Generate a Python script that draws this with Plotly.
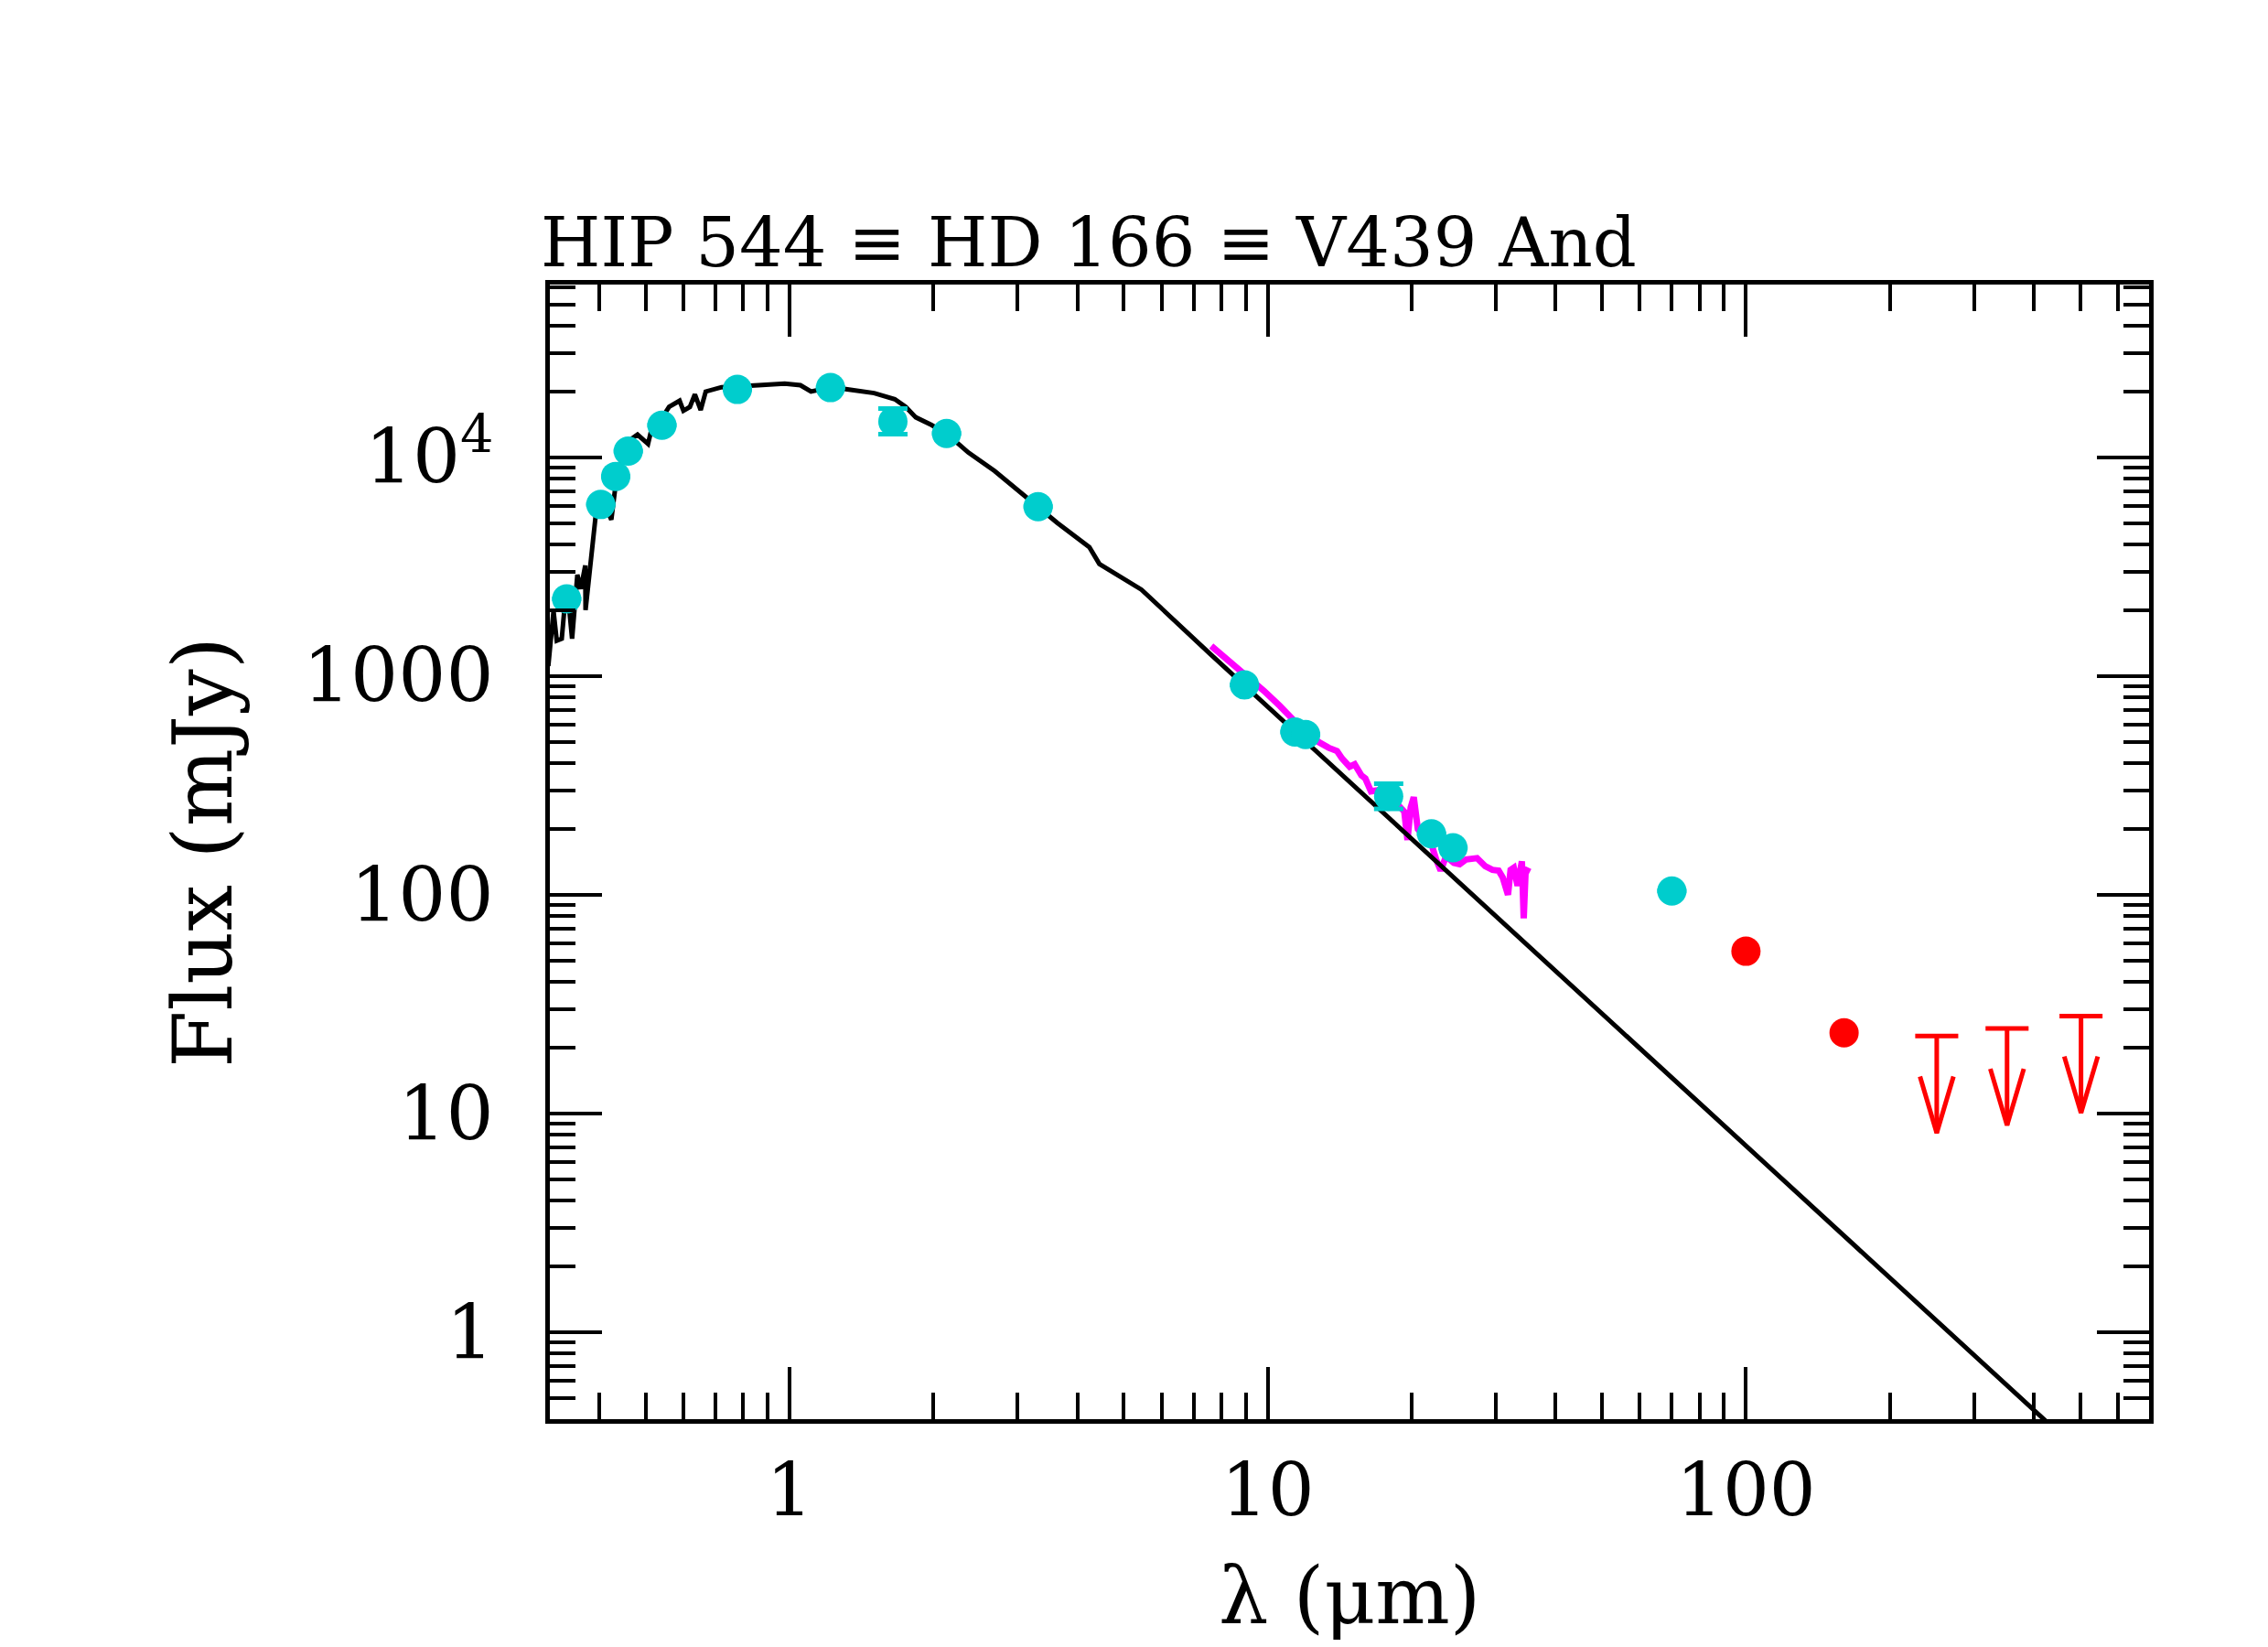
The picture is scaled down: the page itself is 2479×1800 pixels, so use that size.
import plotly.graph_objects as go

# ---------------- data ----------------
# photometry (cyan)
phot_wave = [0.342, 0.403, 0.433, 0.460, 0.541, 0.778, 1.218, 1.645, 2.13, 3.31,
             8.94, 11.4, 12.0, 17.9, 22.0, 24.4, 70.0]
phot_flux = [2250, 6080, 8170, 10660, 14000, 20400, 20800, 14560, 12840, 5940,
             910, 555, 540, 282, 190, 164, 104]
phot_err_hi = [0, 0, 0, 0, 0, 0, 0, 2140, 0, 0, 0, 0, 0, 40, 0, 0, 0]
phot_err_lo = [0, 0, 0, 0, 0, 0, 0, 1830, 0, 0, 0, 0, 0, 35, 0, 0, 0]

# Herschel detections (red)
her_wave = [100.0, 160.4]
her_flux = [55.2, 23.4]

# Herschel upper limits (red arrows)
ul_wave = [250.6, 351.6, 502.0]
ul_flux = [22.6, 24.5, 27.9]

# stellar photosphere model (black)
model_wave = [0.313, 0.318, 0.321, 0.326, 0.334, 0.340, 0.347, 0.351, 0.360, 0.366,
              0.374, 0.3745, 0.384, 0.393, 0.408, 0.424, 0.435, 0.463, 0.481, 0.506,
              0.519, 0.540, 0.560, 0.589, 0.600, 0.619, 0.634, 0.652, 0.668, 0.721,
              0.861, 0.977, 1.054, 1.109, 1.227, 1.358, 1.503, 1.660, 1.750, 1.837,
              1.982, 2.138, 2.366, 2.685, 3.048, 3.631, 4.236, 4.446, 5.445, 7.568,
              500.0]
model_flux = [1110, 1700, 1980, 1450, 1480, 2300, 1920, 1480, 2900, 2500,
              3200, 2000, 3520, 5350, 6280, 5180, 8150, 11970, 12680, 11510,
              14520, 15000, 16980, 18110, 16300, 16980, 19360, 16440, 19950, 20890,
              21330, 21680, 21330, 19950, 20890, 20280, 19630, 18410, 16980, 15210,
              14030, 12740, 10500, 8650, 6920, 5010, 3880, 3250, 2480, 1265,
              0.282]

# Spitzer IRS spectrum (magenta)
irs_wave = [7.62, 8.2, 8.75, 9.3, 9.82, 10.6, 11.38, 12.1, 12.79, 13.4,
            13.96, 14.3, 14.83, 15.2, 15.7, 16.0, 16.44, 17.0, 17.6, 18.2,
            18.8, 19.3, 19.6, 19.9, 20.2, 20.6, 21.1, 22.0, 22.5, 23.0,
            23.6, 24.5, 25.2, 26.0, 27.4, 28.5, 29.5, 30.4, 31.0, 31.8,
            32.2, 32.7, 33.3, 34.0, 34.3, 34.6, 35.1]
irs_flux = [1371, 1200, 1074, 960, 855, 730, 622, 560, 498, 470,
            454, 420, 385, 395, 351, 340, 297, 300, 275, 262,
            255, 240, 178, 250, 279, 200, 190, 170, 145, 129,
            150, 140, 138, 145, 147, 135, 130, 129, 120, 100,
            130, 133, 110, 142, 78, 125, 133]

x_tickvals = [1, 10, 100]
x_ticktext = ["1", "10", "100"]
y_tickvals = [1, 10, 100, 1000, 10000]
y_ticktext = ["1", "10", "100", "1000", "10<sup>4</sup>"]

title_text = "HIP 544 \u2261 HD 166 \u2261 V439 And"
xlabel = "\u03bb (\u03bcm)"
ylabel = "Flux (mJy)"

# ---------------- style ----------------
FONT = "DejaVu Serif"
CYAN = "#00CDCD"
RED = "#FF0000"
MAG = "#FF00FF"
UL_LEN_DEX = 0.443
HEAD_LEN_DEX = 0.258
HEAD_HALF_DEX = 0.035
CAP_HALF_DEX = 0.045

fig = go.Figure()

fig.add_trace(go.Scatter(x=irs_wave, y=irs_flux, mode="lines",
                         line=dict(color=MAG, width=7), showlegend=False))
fig.add_trace(go.Scatter(x=model_wave, y=model_flux, mode="lines",
                         line=dict(color="black", width=5), showlegend=False))
fig.add_trace(go.Scatter(x=phot_wave, y=phot_flux, mode="markers",
                         marker=dict(color=CYAN, size=32, line=dict(width=0)),
                         error_y=dict(type="data", array=phot_err_hi, arrayminus=phot_err_lo,
                                      color=CYAN, thickness=5, width=16),
                         showlegend=False))
fig.add_trace(go.Scatter(x=her_wave, y=her_flux, mode="markers",
                         marker=dict(color=RED, size=32, line=dict(width=0)),
                         showlegend=False))

# upper-limit arrows built from the data
ax, ay = [], []
for w, f in zip(ul_wave, ul_flux):
    tip = f / 10 ** UL_LEN_DEX
    head = tip * 10 ** HEAD_LEN_DEX
    ax += [w / 10 ** CAP_HALF_DEX, w * 10 ** CAP_HALF_DEX, None]
    ay += [f, f, None]
    ax += [w, w, None]
    ay += [f, tip, None]
    ax += [w / 10 ** HEAD_HALF_DEX, w, w * 10 ** HEAD_HALF_DEX, None]
    ay += [head, tip, head, None]
fig.add_trace(go.Scatter(x=ax, y=ay, mode="lines",
                         line=dict(color=RED, width=5), showlegend=False))

x_minor = [k * 10 ** e for e in range(-1, 3) for k in range(2, 10)]
y_minor = [k * 10 ** e for e in range(-1, 5) for k in range(2, 10)]

axis_common = dict(
    showgrid=False, zeroline=False, showline=True, linecolor="black", linewidth=5,
    mirror="ticks", ticks="inside", ticklen=57, tickwidth=4, tickcolor="black",
    tickmode="array",
)

fig.update_xaxes(type="log", range=[-0.5012, 2.843], tickvals=x_tickvals, ticktext=x_ticktext,
                 tickfont=dict(family=FONT, size=80, color="black"), ticklabelstandoff=4,
                 minor=dict(ticks="inside", ticklen=29, tickwidth=4, tickcolor="black",
                            tickmode="array", tickvals=x_minor, showgrid=False),
                 **axis_common)
fig.update_yaxes(type="log", range=[-0.397, 4.789], tickvals=y_tickvals, ticktext=y_ticktext,
                 tickfont=dict(family=FONT, size=82, color="black"), ticklabelstandoff=40,
                 minor=dict(ticks="inside", ticklen=28, tickwidth=4, tickcolor="black",
                            tickmode="array", tickvals=y_minor, showgrid=False),
                 **axis_common)

fig.add_annotation(text=title_text, x=0, y=1, xref="paper", yref="paper",
                   xanchor="left", yanchor="bottom", showarrow=False, yshift=0, xshift=-12,
                   font=dict(family=FONT, size=75, color="black"))
fig.add_annotation(text=ylabel, x=-0.2174, y=0.5, xref="paper", yref="paper",
                   xanchor="center", yanchor="middle", textangle=-90, showarrow=False,
                   font=dict(family=FONT, size=90, color="black"))
fig.add_annotation(text=xlabel, x=0.5, y=-0.156, xref="paper", yref="paper",
                   xanchor="center", yanchor="middle", showarrow=False,
                   font=dict(family=FONT, size=86, color="black"))

fig.update_layout(
    width=2479, height=1800,
    margin=dict(l=593, r=138, t=303, b=257, autoexpand=False),
    paper_bgcolor="white", plot_bgcolor="white",
    showlegend=False,
)

fig.write_html("out.html")
